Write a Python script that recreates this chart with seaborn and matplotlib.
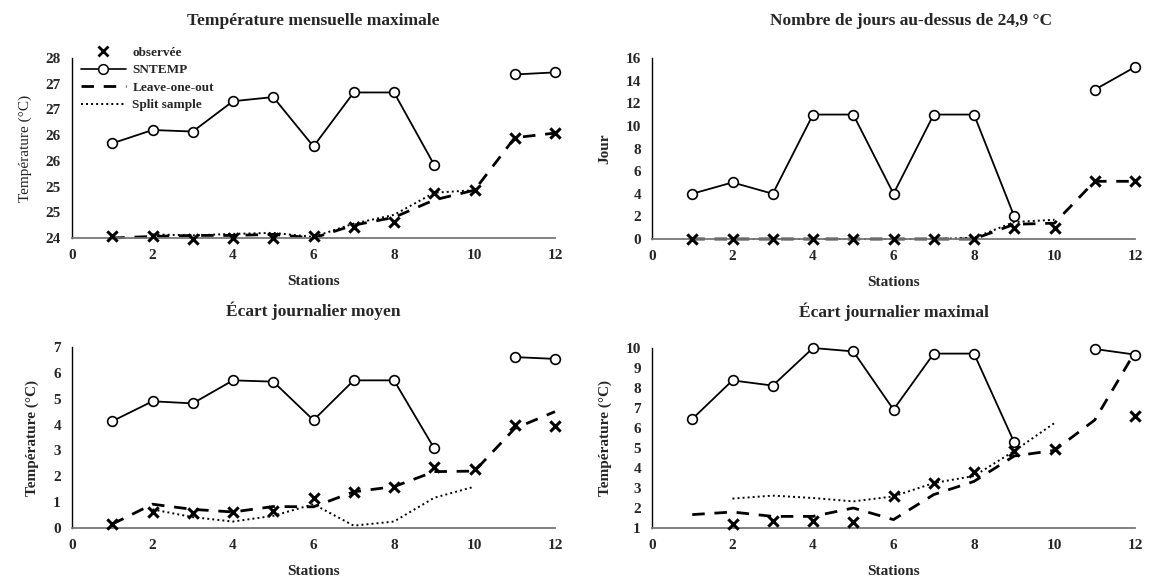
import math
import numpy as np
import pandas as pd
import matplotlib
matplotlib.use("Agg")
import matplotlib.pyplot as plt
from matplotlib.ticker import FuncFormatter, MultipleLocator
from matplotlib.lines import Line2D
import seaborn as sns

nan = np.nan
stations = list(range(1, 13))

# Panel 1: Température mensuelle maximale
tmax_obs = [24.03, 24.03, 23.99, 24.0, 24.0, 24.03, 24.22, 24.32, 24.88, 24.93, 25.95, 26.04]
tmax_sntemp = [25.84, 26.1, 26.07, 26.66, 26.74, 25.78, 26.83, 26.83, 25.42, nan, 27.18, 27.22]
tmax_loo = [24.0, 24.03, 24.05, 24.05, 24.07, 24.0, 24.25, 24.4, 24.74, 24.93, 25.95, 26.04]
tmax_split = [nan, 24.07, 24.05, 24.08, 24.1, 24.02, 24.28, 24.45, 24.88, 24.93, nan, nan]

# Panel 2: Nombre de jours au-dessus de 24,9 °C
days_obs = [0, 0, 0, 0, 0, 0, 0, 0, 1.0, 1.0, 5.1, 5.1]
days_sntemp = [4, 5, 4, 11, 11, 4, 11, 11, 2, nan, 13.2, 15.2]
days_loo = [0, 0, 0, 0, 0, 0, 0, 0, 1.3, 1.4, 5.1, 5.1]
days_split = [nan, 0, 0, 0, 0, 0, 0, 0.1, 1.5, 1.7, nan, nan]

# Panel 3: Écart journalier moyen
mean_obs = [0.17, 0.6, 0.58, 0.6, 0.67, 1.16, 1.41, 1.6, 2.35, 2.28, 4.0, 3.94]
mean_sntemp = [4.13, 4.9, 4.82, 5.71, 5.66, 4.17, 5.71, 5.71, 3.08, nan, 6.61, 6.54]
mean_loo = [0.15, 0.92, 0.72, 0.62, 0.83, 0.82, 1.4, 1.6, 2.18, 2.2, 3.85, 4.5]
mean_split = [nan, 0.72, 0.42, 0.25, 0.47, 0.92, 0.09, 0.25, 1.17, 1.6, nan, nan]

# Panel 4: Écart journalier maximal
max_obs = [nan, 1.22, 1.33, 1.33, 1.3, 2.58, 3.25, 3.78, 4.83, 4.95, nan, 6.58]
max_sntemp = [6.45, 8.38, 8.12, 10.0, 9.83, 6.92, 9.72, 9.72, 5.28, nan, 9.95, 9.67]
max_loo = [1.67, 1.8, 1.58, 1.58, 2.0, 1.42, 2.67, 3.33, 4.6, 4.88, 6.4, 9.8]
max_split = [nan, 2.47, 2.62, 2.5, 2.33, 2.58, 3.25, 3.6, 4.85, 6.25, nan, nan]

titles = ["Température mensuelle maximale", "Nombre de jours au-dessus de 24,9 °C",
          "Écart journalier moyen", "Écart journalier maximal"]
ylabels = ["Température (°C)", "Jour", "Température (°C)", "Température (°C)"]
xlabel = "Stations"
legend_labels = ["observée", "SNTEMP", "Leave-one-out", "Split sample"]

sns.set_style("white")
plt.rcParams['font.family'] = ['Liberation Serif', 'DejaVu Serif']
plt.rcParams['font.weight'] = 'bold'

W, H = 1149, 580
fig = plt.figure(figsize=(W / 100, H / 100), dpi=100)


def frac(x0, y0, x1, y1):
    return [x0 / W, 1 - y1 / H, (x1 - x0) / W, (y1 - y0) / H]


axes = [
    fig.add_axes(frac(72, 58, 555, 238)),
    fig.add_axes(frac(652, 58, 1135, 239)),
    fig.add_axes(frac(72, 347, 555, 528)),
    fig.add_axes(frac(652, 348, 1135, 528)),
]

panels = [
    (tmax_obs, tmax_sntemp, tmax_loo, tmax_split, (24, 27.5), 0.5),
    (days_obs, days_sntemp, days_loo, days_split, (0, 16), 2),
    (mean_obs, mean_sntemp, mean_loo, mean_split, (0, 7), 1),
    (max_obs, max_sntemp, max_loo, max_split, (1, 10), 1),
]
title_x = [0.5, 0.536, 0.5, 0.5]

round_half_up = FuncFormatter(lambda v, p: f"{math.floor(v + 0.5 + 1e-9):d}")

for i, (ax, (obs, snt, loo, spl, ylim, step)) in enumerate(zip(axes, panels)):
    df = pd.DataFrame({"station": stations, "obs": obs, "sntemp": snt,
                       "loo": loo, "split": spl})
    df["seg"] = df["sntemp"].isna().cumsum()
    sns.lineplot(data=df.dropna(subset=["split"]), x="station", y="split", ax=ax,
                 color="black", lw=1.4, linestyle=(0, (1, 1.6)), zorder=2,
                 clip_on=False)
    sns.lineplot(data=df.dropna(subset=["loo"]), x="station", y="loo", ax=ax,
                 color="black", lw=2.0, linestyle=(0, (4.5, 3.5)), zorder=2,
                 clip_on=False)
    sns.lineplot(data=df.dropna(subset=["sntemp"]), x="station", y="sntemp",
                 units="seg", estimator=None, ax=ax, color="black", lw=1.3,
                 marker="o", markersize=7, markerfacecolor="white",
                 markeredgecolor="black", markeredgewidth=1.2, zorder=3,
                 clip_on=False)
    sns.scatterplot(data=df.dropna(subset=["obs"]), x="station", y="obs", ax=ax,
                    marker="x", s=55, color="black", linewidth=2.2, zorder=4,
                    clip_on=False)
    ax.set_xlim(0, 12)
    ax.set_ylim(*ylim)
    ax.xaxis.set_major_locator(MultipleLocator(2))
    ax.yaxis.set_major_locator(MultipleLocator(step))
    if i == 0:
        ax.yaxis.set_major_formatter(round_half_up)
    ax.tick_params(length=0, labelsize=11, pad=8)
    for lab in ax.get_xticklabels() + ax.get_yticklabels():
        lab.set_fontweight("bold")
    for s in ["top", "right"]:
        ax.spines[s].set_visible(False)
    ax.spines["left"].set_color("black")
    ax.spines["left"].set_linewidth(1.0)
    ax.spines["bottom"].set_color("#777777")
    ax.spines["bottom"].set_linewidth(1.3)
    ax.set_xlabel(xlabel, fontsize=11, fontweight="bold", labelpad=9)
    ax.set_ylabel(ylabels[i], fontsize=11,
                  fontweight="normal" if i == 0 else "bold", labelpad=10)
    ax.set_title(titles[i], fontsize=12.5, fontweight="bold", x=title_x[i],
                 pad=24 if i < 2 else 22)

handles = [
    Line2D([], [], color="black", marker="x", linestyle="none", markersize=7,
           markeredgewidth=2),
    Line2D([], [], color="black", lw=1.2, marker="o", markersize=7,
           markerfacecolor="white", markeredgewidth=1.1),
    Line2D([], [], color="black", lw=2.0, linestyle=(0, (4.5, 3.5))),
    Line2D([], [], color="black", lw=1.4, linestyle=(0, (1, 1.6))),
]
axes[0].legend(handles, legend_labels, loc="upper left", bbox_to_anchor=(0.005, 1.1),
               frameon=False, prop={"weight": "bold", "size": 9.5},
               handlelength=3.4, labelspacing=0.4, borderpad=0,
               handletextpad=0.5)

fig.savefig("out.png", dpi=100)
